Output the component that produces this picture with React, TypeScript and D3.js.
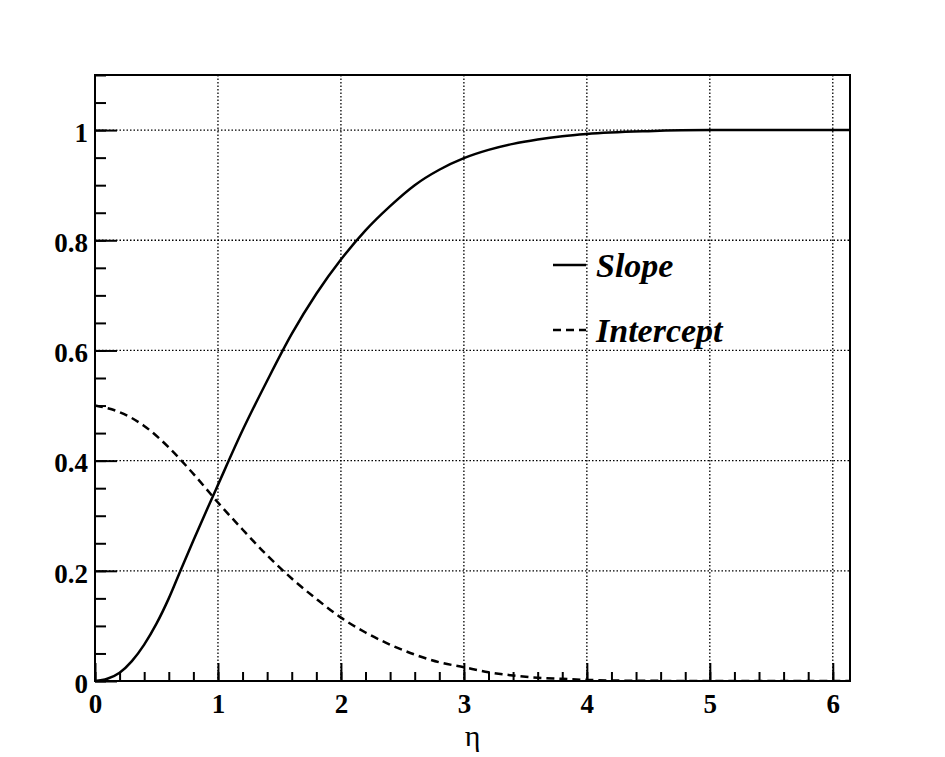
import React, { useRef, useEffect } from 'react';
import * as d3 from 'd3';

// curves (eta, value)
const slopeEta = [0, 0.1, 0.2, 0.3, 0.4, 0.5, 0.6, 0.7, 0.8, 0.9, 1.0, 1.2, 1.4, 1.6, 1.8, 2.0, 2.2, 2.4, 2.6, 2.8, 3.0, 3.2, 3.4, 3.6, 3.8, 4.0, 4.5, 5.0, 6.14];
const slopeVal = [0, 0.004, 0.015, 0.036, 0.066, 0.104, 0.15, 0.203, 0.255, 0.306, 0.356, 0.455, 0.545, 0.63, 0.703, 0.765, 0.818, 0.862, 0.9, 0.928, 0.949, 0.964, 0.975, 0.983, 0.989, 0.993, 0.998, 1.0, 1.0];
const interceptEta = [0, 0.2, 0.4, 0.6, 0.8, 1.0, 1.2, 1.4, 1.6, 1.8, 2.0, 2.2, 2.4, 2.6, 2.8, 3.0, 3.2, 3.4, 3.6, 3.8, 4.0, 4.4, 5.0, 6.14];
const interceptVal = [0.5, 0.488, 0.463, 0.424, 0.376, 0.324, 0.275, 0.228, 0.186, 0.149, 0.115, 0.088, 0.066, 0.048, 0.034, 0.025, 0.016, 0.01, 0.006, 0.004, 0.002, 0.0005, 0, 0];

const xTicks = [0, 1, 2, 3, 4, 5, 6];
const yTicks = [0, 0.2, 0.4, 0.6, 0.8, 1];
const yLabels = ['0', '0.2', '0.4', '0.6', '0.8', '1'];
const legendNames = ['Slope', 'Intercept'];
const xTitle = 'η';

const FONT = '"Liberation Serif", "Times New Roman", serif';

const App = () => {
    const svgRef = useRef(null);

    useEffect(() => {
        const svg = d3.select(svgRef.current);
        svg.selectAll('*').remove();

        const left = 95, right = 850, top = 75, bottom = 681;
        const x = d3.scaleLinear().domain([0, 6.14]).range([left, right]);
        const y = d3.scaleLinear().domain([0, 1.1]).range([bottom, top]);

        /* dotted grid */
        const grid = svg.append('g');
        grid.selectAll('.gx').data(xTicks.filter(d => d > 0)).join('line')
            .attr('x1', d => x(d)).attr('x2', d => x(d)).attr('y1', top).attr('y2', bottom);
        grid.selectAll('.gy').data(yTicks.filter(d => d > 0)).join('line')
            .attr('x1', left).attr('x2', right).attr('y1', d => y(d)).attr('y2', d => y(d));
        grid.selectAll('line').attr('stroke', '#000').attr('stroke-width', 1.3).attr('stroke-dasharray', '1.5,2');

        /* minor ticks */
        const minorY = d3.range(0, 1.1 + 1e-9, 0.05);
        const minorX = d3.range(0, 6.14, 0.2);
        svg.append('g').attr('transform', `translate(${left},0)`)
            .call(d3.axisLeft(y).tickValues(minorY).tickSize(-11).tickFormat(() => ''))
            .call(g => g.select('.domain').remove());
        svg.append('g').attr('transform', `translate(0,${bottom})`)
            .call(d3.axisBottom(x).tickValues(minorX).tickSize(-9).tickFormat(() => ''))
            .call(g => g.select('.domain').remove());

        /* major ticks with labels */
        const yAxis = svg.append('g').attr('transform', `translate(${left},0)`)
            .call(d3.axisLeft(y).tickValues(yTicks).tickSize(-22).tickPadding(7).tickFormat((_, i) => yLabels[i]))
            .call(g => g.select('.domain').remove());
        yAxis.selectAll('text').attr('dy', '0.42em');
        const xAxis = svg.append('g').attr('transform', `translate(0,${bottom})`)
            .call(d3.axisBottom(x).tickValues(xTicks).tickSize(-18).tickPadding(9).tickFormat(d3.format('d')))
            .call(g => g.select('.domain').remove());
        xAxis.selectAll('text').attr('dy', '0.85em');
        svg.selectAll('.tick line').attr('stroke', '#000').attr('stroke-width', 2);
        svg.selectAll('.tick text')
            .attr('font-family', FONT).attr('font-weight', 'bold').attr('font-size', 27).attr('fill', '#000');

        /* curves */
        const clip = svg.append('clipPath').attr('id', 'frame');
        clip.append('rect').attr('x', left).attr('y', top).attr('width', right - left).attr('height', bottom - top);
        const line = d3.line<number[]>().curve(d3.curveMonotoneX);
        const slopePts = slopeEta.map((e, i) => [x(e), y(slopeVal[i])]);
        const intPts = interceptEta.map((e, i) => [x(e), y(interceptVal[i])]);
        svg.append('path').attr('d', line(slopePts as any)).attr('clip-path', 'url(#frame)')
            .attr('fill', 'none').attr('stroke', '#000').attr('stroke-width', 2.5);
        svg.append('path').attr('d', line(intPts as any)).attr('clip-path', 'url(#frame)')
            .attr('fill', 'none').attr('stroke', '#000').attr('stroke-width', 2.5).attr('stroke-dasharray', '8,5');

        /* frame */
        svg.append('rect').attr('x', left).attr('y', top).attr('width', right - left).attr('height', bottom - top)
            .attr('fill', 'none').attr('stroke', '#000').attr('stroke-width', 2);

        /* legend */
        const legend = svg.append('g');
        legendNames.forEach((name, i) => {
            const ly = 265 + i * 65;
            legend.append('line').attr('x1', 553).attr('x2', 586).attr('y1', ly).attr('y2', ly)
                .attr('stroke', '#000').attr('stroke-width', 2.5)
                .attr('stroke-dasharray', i === 1 ? '8,5' : null);
            legend.append('text').attr('x', 596).attr('y', ly + 12).text(name)
                .attr('font-family', FONT).attr('font-weight', 'bold').attr('font-style', 'italic')
                .attr('font-size', 34).attr('fill', '#000');
        });

        /* axis title */
        svg.append('text').attr('x', (left + right) / 2).attr('y', 746).attr('text-anchor', 'middle')
            .attr('font-family', FONT).attr('font-size', 30).attr('fill', '#000').text(xTitle);
    }, []);

    return (
        <svg ref={svgRef} width={945} height={757} style={{ position: 'absolute', left: 0, top: 0, background: '#fff' }} />
    );
};

export default App;
